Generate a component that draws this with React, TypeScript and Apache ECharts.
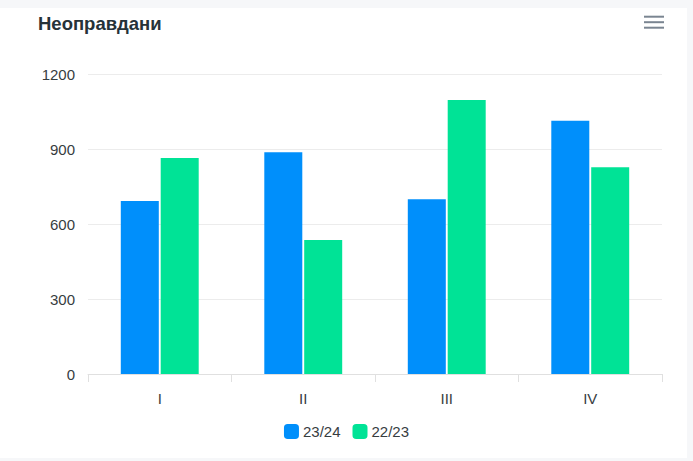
import React, { useEffect, useRef } from "react";
import * as echarts from "echarts";

const categories = ["I", "II", "III", "IV"];
const series2324 = [692, 887, 699, 1013];
const series2223 = [864, 536, 1096, 827];
const seriesNames = ["23/24", "22/23"];
const yTicks = { min: 0, max: 1200, interval: 300 };
const chartTitle = "Неоправдани";

export default function App() {
  const ref = useRef<HTMLDivElement>(null);
  useEffect(() => {
    document.body.style.margin = "0";
    const chart = echarts.init(ref.current!, undefined, { renderer: "svg" });
    const font = "'Liberation Sans', Arial, Helvetica, sans-serif";
    chart.setOption({
      animation: false,
      backgroundColor: "transparent",
      textStyle: { fontFamily: font },
      title: {
        text: chartTitle,
        left: 38,
        top: 6,
        padding: 0,
        textStyle: { fontSize: 18.5, fontWeight: "bold", color: "#263238", fontFamily: font },
      },
      graphic: [
        { type: "line", shape: { x1: 644, y1: 8.7, x2: 664, y2: 8.7 }, style: { stroke: "#7a8591", lineWidth: 2 } },
        { type: "line", shape: { x1: 644, y1: 14.2, x2: 664, y2: 14.2 }, style: { stroke: "#7a8591", lineWidth: 2 } },
        { type: "line", shape: { x1: 644, y1: 19.7, x2: 664, y2: 19.7 }, style: { stroke: "#7a8591", lineWidth: 2 } },
      ],
      legend: {
        data: seriesNames,
        top: 416,
        left: "center",
        padding: 0,
        icon: "roundRect",
        itemWidth: 15,
        itemHeight: 15,
        itemGap: 12,
        textStyle: { fontSize: 15, color: "#373d3f", padding: [0, 0, 0, -1] },
      },
      grid: { left: 88, right: 31, top: 66, bottom: 87 },
      xAxis: {
        type: "category",
        data: categories,
        axisLine: { lineStyle: { color: "#e0e0e0" } },
        axisTick: { show: true, length: 8, lineStyle: { color: "#e0e0e0" } },
        axisLabel: { fontSize: 15, color: "#373d3f", margin: 17 },
      },
      yAxis: {
        type: "value",
        min: yTicks.min,
        max: yTicks.max,
        interval: yTicks.interval,
        axisLine: { show: false },
        axisTick: { show: false },
        axisLabel: { fontSize: 15, color: "#373d3f", margin: 13, formatter: (v: number) => String(v) },
        splitLine: { lineStyle: { color: "#ececec" } },
      },
      series: [
        {
          name: seriesNames[0],
          type: "bar",
          data: series2324,
          barWidth: 38,
          barGap: "5%",
          itemStyle: { color: "#008FFB" },
        },
        {
          name: seriesNames[1],
          type: "bar",
          data: series2223,
          barWidth: 38,
          itemStyle: { color: "#00E396" },
        },
      ],
    });
    return () => chart.dispose();
  }, []);
  return (
    <div style={{ position: "relative", width: 693, height: 461, background: "#f6f7f9", overflow: "hidden" }}>
      <div style={{ position: "absolute", left: 0, top: 8, width: 687, height: 450, background: "#ffffff" }} />
      <div ref={ref} style={{ position: "absolute", left: 0, top: 8, width: 693, height: 453 }} />
    </div>
  );
}
